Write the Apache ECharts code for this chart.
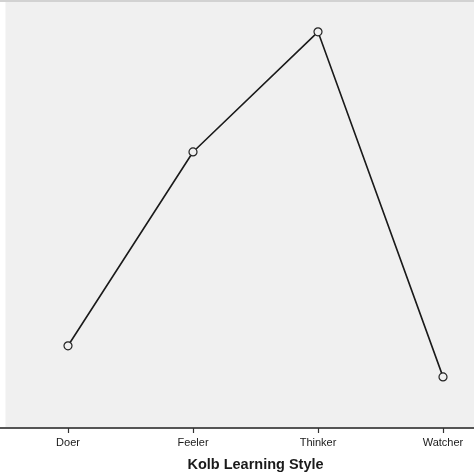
<!DOCTYPE html>
<html>
<head>
<meta charset="utf-8">
<script src="https://cdn.jsdelivr.net/npm/echarts@6/dist/echarts.min.js"></script>
<style>html,body{margin:0;padding:0;background:#fff;}#c{width:474px;height:474px;}</style>
</head>
<body>
<div id="c"></div>
<script>
var categories = ['Doer', 'Feeler', 'Thinker', 'Watcher'];
var meanValues = [19.3, 64.8, 93.0, 12.0];
var axisTitle = 'Kolb Learning Style';

var chart = echarts.init(document.getElementById('c'), null, {renderer: 'canvas'});
chart.setOption({
  backgroundColor: '#ffffff',
  animation: false,
  graphic: [{
    type: 'rect', left: 0, top: 0, shape: {width: 474, height: 2},
    style: {fill: '#d2d2d2'}, z: 10
  }, {
    type: 'rect', left: 0, top: 427, shape: {width: 7, height: 2},
    style: {fill: '#555'}, z: 10
  }],
  grid: {
    left: 5.5, right: -31.5, top: 2, bottom: 46,
    containLabel: false,
    outerBoundsMode: 'none',
    show: true, backgroundColor: '#f0f0f0', borderWidth: 0
  },
  xAxis: {
    type: 'category',
    data: categories,
    boundaryGap: true,
    name: axisTitle,
    nameLocation: 'middle',
    nameGap: 29,
    nameTextStyle: {fontFamily: 'Liberation Sans', fontWeight: 'bold', fontSize: 14.5, color: '#1a1a1a', verticalAlign: 'top'},
    axisLine: {show: true, lineStyle: {color: '#555', width: 2}},
    axisTick: {show: true, alignWithLabel: true, length: 5, lineStyle: {color: '#333', width: 1.2}},
    axisLabel: {fontFamily: 'Liberation Sans', fontSize: 11, color: '#1a1a1a', margin: 9},
    splitLine: {show: false}
  },
  yAxis: {
    type: 'value', min: 0, max: 100, show: false,
    splitLine: {show: false}
  },
  series: [{
    type: 'line',
    data: meanValues,
    symbol: 'circle',
    symbolSize: 8,
    showAllSymbol: true,
    lineStyle: {color: '#1a1a1a', width: 1.6},
    itemStyle: {color: '#f0f0f0', borderColor: '#222', borderWidth: 1.2}
  }]
});
</script>
</body>
</html>
